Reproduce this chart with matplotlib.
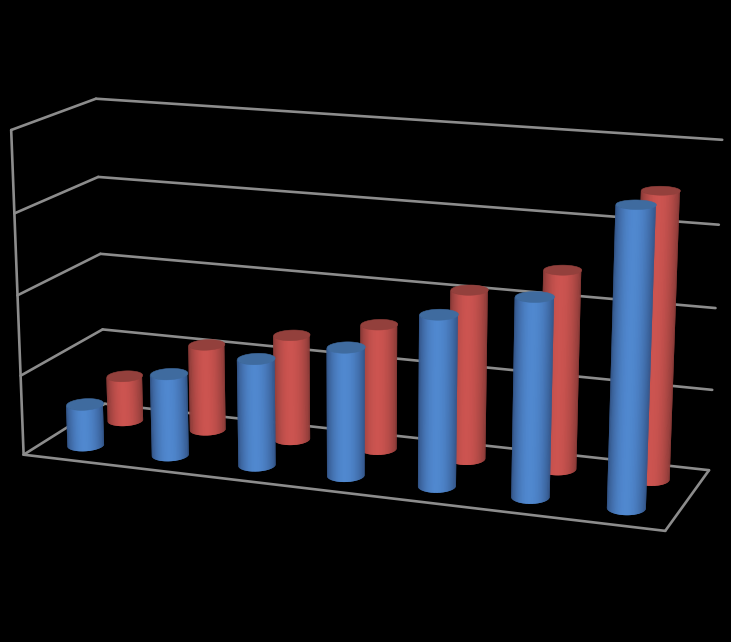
import numpy as np
import matplotlib
matplotlib.use("Agg")
import matplotlib.pyplot as plt
from mpl_toolkits.mplot3d.art3d import Poly3DCollection, Line3DCollection

# ---- data (axis units: one gridline step = 100) ----
categories = [1, 2, 3, 4, 5, 6, 7]
series_blue = [53, 103, 133, 158, 208, 239, 354]
series_red = [59, 111, 134, 158, 211, 245, 348]
axis_ticks = [0, 100, 200, 300, 400]

# ---- style ----
BG = "#000000"
GRID = "#8c8c8c"
BLUE = dict(center="#5088cf", edge="#34568a", cap="#3f6b9f")
RED = dict(center="#cc5450", edge="#8a3b38", cap="#93403c")
DEPTH_BLUE, DEPTH_RED = 0.265, 0.75
SHIFT_BLUE, SHIFT_RED = -0.022, -0.005
RX, RY = 0.193, 0.11
N_CAT = len(categories)
Z_MAX = axis_ticks[-1]

# camera: calibrated from (world x, depth, z) -> image pixel of the chart box
camera_world = [(0, 0, 0), (7, 0, 0), (7, 1, 0), (0, 0, 400), (0, 1, 400), (7, 1, 400),
                (0, 0, 300), (0, 0, 200), (0, 0, 100), (0, 1, 300), (0, 1, 200), (0, 1, 100),
                (7, 1, 300), (7, 1, 200), (7, 1, 100)]
camera_image = [(23, 455), (665, 531), (709, 470), (10.5, 130), (96, 99), (722, 140),
                (15, 213), (18, 295), (21, 376), (98, 177), (100, 254), (103, 329),
                (719, 224.5), (716, 308), (712, 390)]


def fit_camera(world, image):
    A, b = [], []
    for (x, y, z), (u, v) in zip(world, image):
        A.append([x, y, z, 1, 0, 0, 0, 0, -u * x, -u * y, -u * z])
        b.append(u)
        A.append([0, 0, 0, 0, x, y, z, 1, -v * x, -v * y, -v * z])
        b.append(v)
    p = np.linalg.lstsq(np.array(A, float), np.array(b, float), rcond=None)[0]
    return np.array([p[:4], p[4:8], [0, 1, 0, 0], [p[8], p[9], p[10], 1.0]])


def mix(c1, c2, t):
    a, b = np.array(matplotlib.colors.to_rgb(c1)), np.array(matplotlib.colors.to_rgb(c2))
    return tuple(a + (b - a) * t)


fig = plt.figure(figsize=(7.31, 6.42), dpi=100, facecolor=BG)
ax = fig.add_axes([0, 0, 1, 1], projection="3d", computed_zorder=False)
ax.set_axis_off()
ax.patch.set_facecolor(BG)
M = fit_camera(camera_world, camera_image)
ax.get_proj = lambda: M
ax.apply_aspect = lambda position=None: None
ax.viewLim.intervalx = (0, 731)
ax.viewLim.intervaly = (642, 0)

segments = []
for tick in axis_ticks:
    segments.append([(0, 0, tick), (0, 1, tick)])
    segments.append([(0, 1, tick), (N_CAT, 1, tick)])
segments.append([(0, 0, 0), (0, 0, Z_MAX)])
segments.append([(0, 0, 0), (N_CAT, 0, 0)])
segments.append([(N_CAT, 0, 0), (N_CAT, 1, 0)])
grid = Line3DCollection(segments, colors=GRID, linewidths=1.9, zorder=1)
grid.set_capstyle("round")
ax.add_collection3d(grid)


def screen_x(x, y, z):
    h = M @ np.array([x, y, np.full_like(x, z), np.ones_like(x)])
    return h[0] / h[3]


def cylinder(xc, yc, value, style, zorder):
    # th = 0 faces the viewer; only the strips between the two silhouette angles are visible
    th = np.linspace(-np.pi, np.pi, 721)
    xr, yr = xc + RX * np.sin(th), yc - RY * np.cos(th)
    sx = screen_x(xr, yr, value / 2)
    front = np.abs(th) <= np.pi / 2 + 0.35
    left = np.where(front)[0][np.argmin(sx[front])]
    right = np.where(front)[0][np.argmax(sx[front])]
    idx = np.linspace(left, right, 41).round().astype(int)
    xs, ys, px = xr[idx], yr[idx], sx[idx]
    last = len(idx) - 1
    for i in range(last):
        # every strip overlaps its neighbour, so that no seam shows between them
        j = min(i + 2, last)
        bottom = [(xs[k], ys[k], 0) for k in range(i, j + 1)]
        top = [(xs[k], ys[k], value) for k in range(j, i - 1, -1)]
        u = ((px[i] + px[i + 1]) / 2 - px[0]) / (px[-1] - px[0])
        d = (u - 0.47) / (0.47 if u < 0.47 else 0.53)
        col = mix(style["center"], style["edge"], abs(d) ** 2.0)
        strip = Poly3DCollection([bottom + top], facecolors=[col], edgecolors="none",
                                 linewidths=0, zorder=zorder + i * 0.01)
        strip.set_snap(False)
        ax.add_collection3d(strip)
    cap_verts = [list(zip(xr, yr, np.full_like(xr, value)))]
    cap = Poly3DCollection(cap_verts, facecolors=style["cap"], edgecolors=style["cap"],
                           linewidths=0.4, zorder=zorder + 0.9)
    cap.set_snap(False)
    ax.add_collection3d(cap)


for i, v in enumerate(series_red):
    cylinder(i + 0.5 + SHIFT_RED, DEPTH_RED, v, RED, 10 + i)
for i, v in enumerate(series_blue):
    cylinder(i + 0.5 + SHIFT_BLUE, DEPTH_BLUE, v, BLUE, 30 + i)

fig.savefig("out.png", dpi=100, facecolor=BG)
